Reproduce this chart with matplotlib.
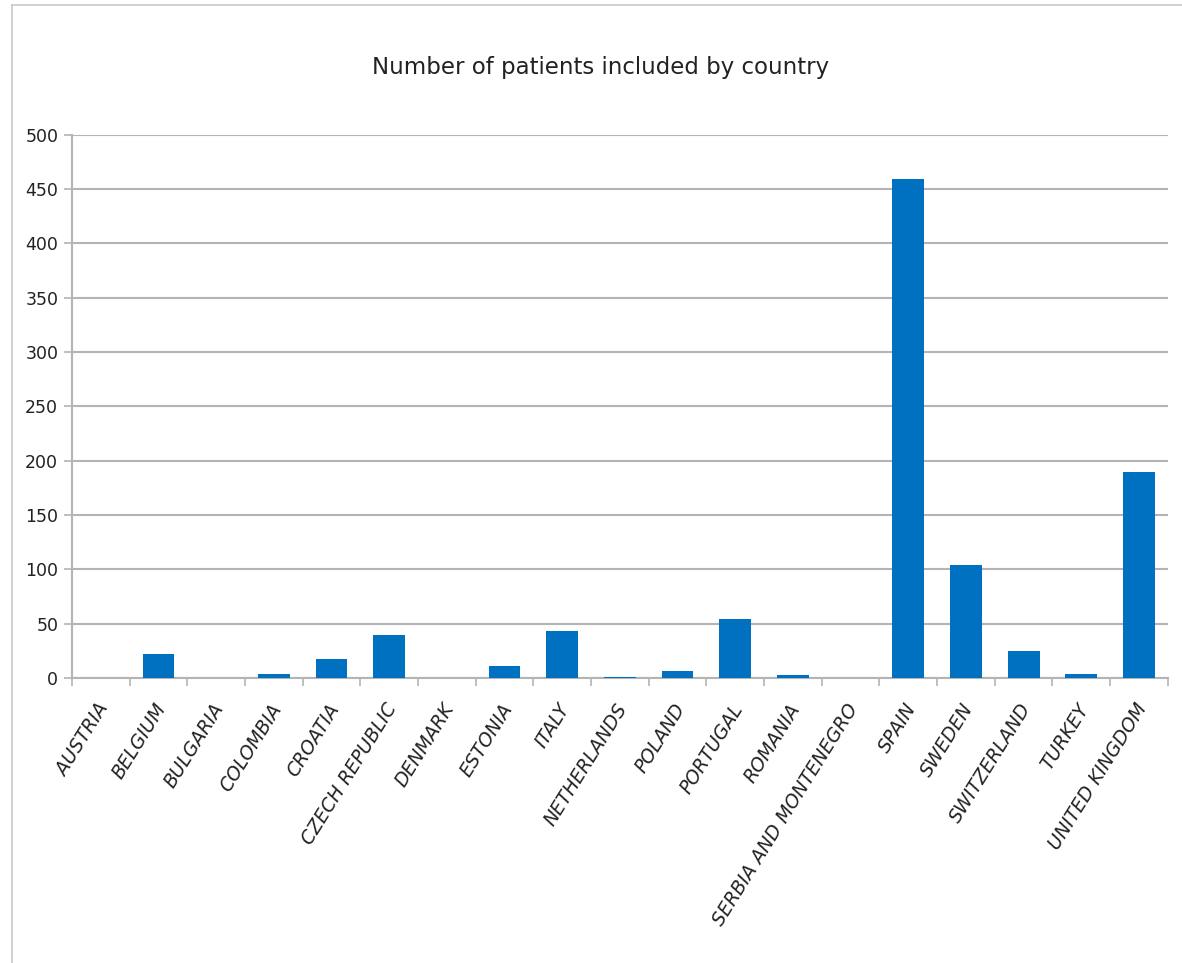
"""Bar chart: number of patients included by country."""

import matplotlib
matplotlib.use('Agg')
import numpy as np
from matplotlib import pyplot as plt

countries = ['AUSTRIA', 'BELGIUM', 'BULGARIA', 'COLOMBIA', 'CROATIA',
             'CZECH REPUBLIC', 'DENMARK', 'ESTONIA', 'ITALY', 'NETHERLANDS',
             'POLAND', 'PORTUGAL', 'ROMANIA', 'SERBIA AND MONTENEGRO', 'SPAIN',
             'SWEDEN', 'SWITZERLAND', 'TURKEY', 'UNITED KINGDOM']
patients = [0, 22, 0, 4, 17, 40, 0, 11, 43, 1, 6, 54, 3, 0, 459, 104, 25, 4, 190]
y_ticks = [0, 50, 100, 150, 200, 250, 300, 350, 400, 450, 500]

plt.rcParams['font.family'] = ['Liberation Sans Narrow', 'DejaVu Sans']

fig = plt.figure(figsize=(11.82, 9.63), dpi=100)
ax = fig.add_axes([0.061, 0.296, 0.927, 0.564])

# outer chart frame (only left and top edges visible in the source)
fig.add_artist(plt.Line2D([0.010, 0.010], [0.0, 0.995], transform=fig.transFigure,
                          color='#c8c8c8', lw=1.2))
fig.add_artist(plt.Line2D([0.010, 1.0], [0.995, 0.995], transform=fig.transFigure,
                          color='#c8c8c8', lw=1.2))

x = np.arange(len(countries))
ax.bar(x, patients, width=0.55, color='#0070C0', zorder=3)

ax.set_xlim(-0.5, len(countries) - 0.5)
ax.set_ylim(0, 500)
ax.set_yticks(y_ticks)
ax.set_yticklabels([str(v) for v in y_ticks], fontsize=12.5, color='#222222')
ax.yaxis.grid(True, color='#b4b4b4', lw=1.5, zorder=0)

# category labels at centres, tick marks at category boundaries
ax.set_xticks(x - 0.08)
ax.set_xticklabels(countries, rotation=58, ha='right', rotation_mode='anchor',
                   fontsize=13.5, style='italic', color='#222222')
ax.tick_params(axis='x', which='major', length=0, pad=16)
ax.set_xticks(np.arange(len(countries) + 1) - 0.5, minor=True)
ax.tick_params(axis='x', which='minor', length=6, color='#b4b4b4', width=1.2)
ax.tick_params(axis='y', length=6, color='#b4b4b4', width=1.2, pad=4)

for side in ['top', 'right']:
    ax.spines[side].set_visible(False)
for side in ['left', 'bottom']:
    ax.spines[side].set_color('#b4b4b4')
    ax.spines[side].set_linewidth(1.5)

fig.text(0.508, 0.930, 'Number of patients included by country', ha='center',
         va='center', fontsize=16.5, color='#222222')

fig.savefig('out.png', dpi=100)
